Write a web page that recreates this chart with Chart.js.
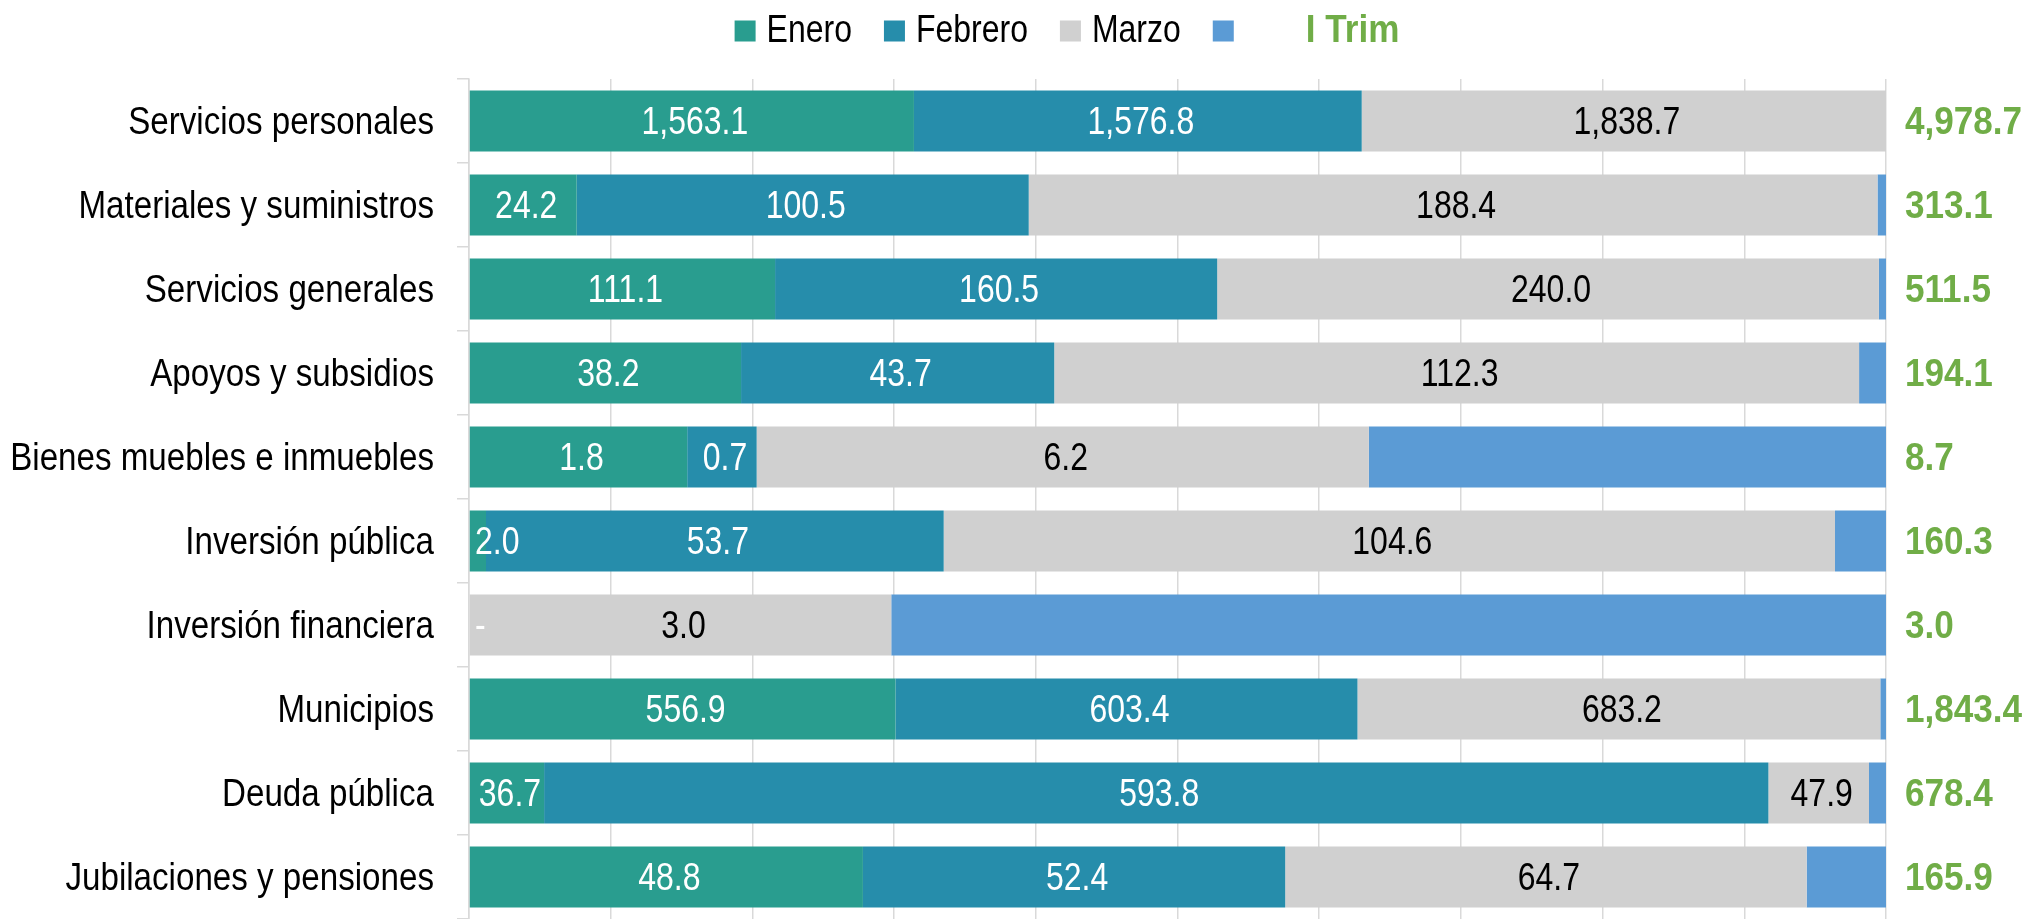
<!DOCTYPE html>
<html>
<head>
<meta charset="utf-8">
<script src="https://cdn.jsdelivr.net/npm/chart.js@4.4.1/dist/chart.umd.min.js"></script>
<style>
  html, body { margin: 0; padding: 0; background: #fff; }
</style>
</head>
<body>
<canvas id="myBarChart" width="2029" height="919"></canvas>
<script>
const categories = ['Servicios personales', 'Materiales y suministros', 'Servicios generales', 'Apoyos y subsidios',
  'Bienes muebles e inmuebles', 'Inversión pública', 'Inversión financiera', 'Municipios', 'Deuda pública',
  'Jubilaciones y pensiones'];

// share of each bar (percent of the row)
const eneroPct = [31.4, 7.6, 21.6, 19.2, 15.4, 1.2, 0, 30.1, 5.3, 27.8];
const febreroPct = [31.6, 31.9, 31.2, 22.1, 4.9, 32.3, 0, 32.6, 86.4, 29.8];
const marzoPct = [37.0, 59.9, 46.7, 56.8, 43.2, 62.9, 29.8, 36.9, 7.1, 36.8];
const trimPct = [0, 0.6, 0.5, 1.9, 36.5, 3.6, 70.2, 0.4, 1.2, 5.6];

// printed values
const eneroLbl = ['1,563.1', '24.2', '111.1', '38.2', '1.8', '2.0', '-', '556.9', '36.7', '48.8'];
const febreroLbl = ['1,576.8', '100.5', '160.5', '43.7', '0.7', '53.7', '', '603.4', '593.8', '52.4'];
const marzoLbl = ['1,838.7', '188.4', '240.0', '112.3', '6.2', '104.6', '3.0', '683.2', '47.9', '64.7'];
const totalLbl = ['4,978.7', '313.1', '511.5', '194.1', '8.7', '160.3', '3.0', '1,843.4', '678.4', '165.9'];

// no narrow font installed: Liberation Sans squeezed horizontally (like Arial Narrow)
const FONT = '"Liberation Sans", Arial, sans-serif';
const colEnero = '#299D8F';
const colFebrero = '#268DAB';
const colMarzo = '#D0D0D0';
const colTrim = '#5B9BD5';
const colGreen = '#70AD47';

function textW(ctx, txt, sx) {
  return ctx.measureText(txt).width * sx;
}

function narrowText(ctx, txt, x, y, align, sx) {
  ctx.save();
  ctx.translate(x, y);
  ctx.scale(sx, 1);
  ctx.textAlign = align;
  ctx.fillText(txt, 0, 0);
  ctx.restore();
}

// category names, data labels inside the bars, totals on the right
const barLabels = {
  id: 'barLabels',
  afterDatasetsDraw(chart) {
    const ctx = chart.ctx;
    const area = chart.chartArea;
    const yScale = chart.scales.y;
    ctx.save();
    ctx.textBaseline = 'middle';

    ctx.font = '39px ' + FONT;
    ctx.fillStyle = '#000';
    categories.forEach((c, i) => {
      narrowText(ctx, c, area.left - 35, yScale.getPixelForValue(i) + 2, 'right', 0.85);
    });

    const sets = [eneroLbl, febreroLbl, marzoLbl];
    const colors = ['#fff', '#fff', '#000'];
    sets.forEach((lbls, di) => {
      chart.getDatasetMeta(di).data.forEach((bar, i) => {
        const txt = lbls[i];
        if (!txt) return;
        const w = textW(ctx, txt, 0.82);
        let cx = (bar.x + bar.base) / 2 + 3;
        cx = Math.max(cx, area.left + w / 2 + 6);
        ctx.fillStyle = colors[di];
        narrowText(ctx, txt, cx, bar.y + 2, 'center', 0.82);
      });
    });

    ctx.font = 'bold 39px ' + FONT;
    ctx.fillStyle = colGreen;
    chart.getDatasetMeta(3).data.forEach((bar, i) => {
      narrowText(ctx, totalLbl[i], area.right + 19, bar.y + 2, 'left', 0.9);
    });
    ctx.restore();
  }
};

// legend row on top
const topLegend = {
  id: 'topLegend',
  afterDraw(chart) {
    const ctx = chart.ctx;
    const items = [['Enero', colEnero], ['Febrero', colFebrero], ['Marzo', colMarzo], ['', colTrim]];
    ctx.save();
    ctx.textBaseline = 'middle';
    const box = 21, gap = 11, space = 32, trimGap = 72;
    ctx.font = 'bold 39px ' + FONT;
    const trimW = textW(ctx, 'I Trim', 0.9);
    ctx.font = '39px ' + FONT;
    let total = 0;
    items.forEach(it => { total += box + gap + textW(ctx, it[0], 0.82) + space; });
    total = total - space - gap + trimGap + trimW;
    let x = 1067 - total / 2;
    const y = 31;
    items.forEach(it => {
      ctx.fillStyle = it[1];
      ctx.fillRect(x, y - box / 2, box, box);
      if (it[0]) {
        ctx.fillStyle = '#000';
        narrowText(ctx, it[0], x + box + gap, y, 'left', 0.82);
        x += box + gap + textW(ctx, it[0], 0.82) + space;
      } else {
        x += box + trimGap;
      }
    });
    ctx.font = 'bold 39px ' + FONT;
    ctx.fillStyle = colGreen;
    narrowText(ctx, 'I Trim', x, y, 'left', 0.9);
    ctx.restore();
  }
};

const ctx = document.getElementById('myBarChart').getContext('2d');
const myBarChart = new Chart(ctx, {
  type: 'bar',
  data: {
    labels: categories,
    datasets: [
      { label: 'Enero', data: eneroPct, backgroundColor: colEnero },
      { label: 'Febrero', data: febreroPct, backgroundColor: colFebrero },
      { label: 'Marzo', data: marzoPct, backgroundColor: colMarzo },
      { label: 'I Trim', data: trimPct, backgroundColor: colTrim }
    ]
  },
  options: {
    indexAxis: 'y',
    responsive: false,
    animation: false,
    barPercentage: 0.726,
    categoryPercentage: 1.0,
    layout: { padding: { top: 79, right: 143, bottom: 0, left: 0 } },
    plugins: {
      legend: { display: false },
      tooltip: { enabled: false }
    },
    scales: {
      x: {
        stacked: true,
        min: 0,
        max: 100,
        ticks: { display: false, stepSize: 10 },
        grid: { color: '#d9d9d9', lineWidth: 1.5, drawTicks: false },
        border: { display: false }
      },
      y: {
        stacked: true,
        grid: { drawOnChartArea: false, drawTicks: true, tickLength: 12, color: '#d9d9d9', lineWidth: 1.5, offset: true },
        border: { display: true, color: '#d9d9d9', width: 1.5 },
        ticks: { display: false },
        afterFit(scale) {
          scale.width = 469;
          scale.paddingTop = 0;
          scale.paddingBottom = 0;
        }
      }
    }
  },
  plugins: [barLabels, topLegend]
});
</script>
</body>
</html>
